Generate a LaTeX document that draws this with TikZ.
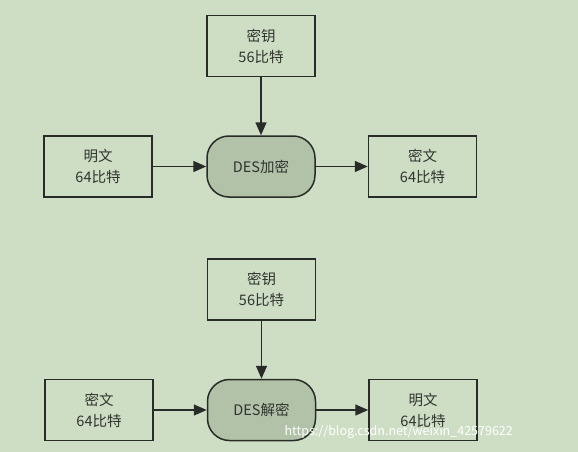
\documentclass[tikz,border=0pt]{standalone}
\usepackage{fontspec}
\setmainfont{Noto Sans CJK SC}
\usetikzlibrary{arrows.meta}
\definecolor{bgc}{RGB}{206,222,196}
\definecolor{ink}{RGB}{40,43,40}
\definecolor{procfill}{RGB}{178,194,168}
\definecolor{txt}{RGB}{48,51,46}
\tikzset{
  box/.style={draw=ink, line width=1.5pt, minimum width=108pt, minimum height=61pt, align=center, font=\fontsize{14.5}{21}\selectfont, text=txt, inner sep=0pt},
  proc/.style={box, fill=procfill, rounded corners=22pt},
  arr/.style={draw=ink, line width=1.5pt, -{Triangle[length=13pt,width=11pt]}}
}
\begin{document}
\begin{tikzpicture}[x=1pt,y=-1pt]
\fill[bgc] (0,0) rectangle (578,452);
\useasboundingbox (0,0) rectangle (578,452);
% top diagram
\node[box] (k1) at (261,46) {密钥\\56比特};
\node[box] (p1) at (98,166.5) {明文\\64比特};
\node[proc] (e1) at (261,166.5) {DES加密};
\node[box] (c1) at (422.5,166.5) {密文\\64比特};
\draw[arr] (k1) -- (e1);
\draw[arr] (p1) -- (e1);
\draw[arr] (e1) -- (c1);
% bottom diagram
\node[box] (k2) at (261.5,289.5) {密钥\\56比特};
\node[box] (c2) at (99,410) {密文\\64比特};
\node[proc] (d2) at (261.5,410) {DES解密};
\node[box] (p2) at (423,410) {明文\\64比特};
\draw[arr] (k2) -- (d2);
\draw[arr] (c2) -- (d2);
\draw[arr] (d2) -- (p2);
% watermark
\node[font=\fontsize{12.5}{14}\selectfont, text=white, anchor=east, inner sep=0pt] (wm) at (513,432) {https://blog.csdn.net/weixin\_42579622};
\end{tikzpicture}
\end{document}
